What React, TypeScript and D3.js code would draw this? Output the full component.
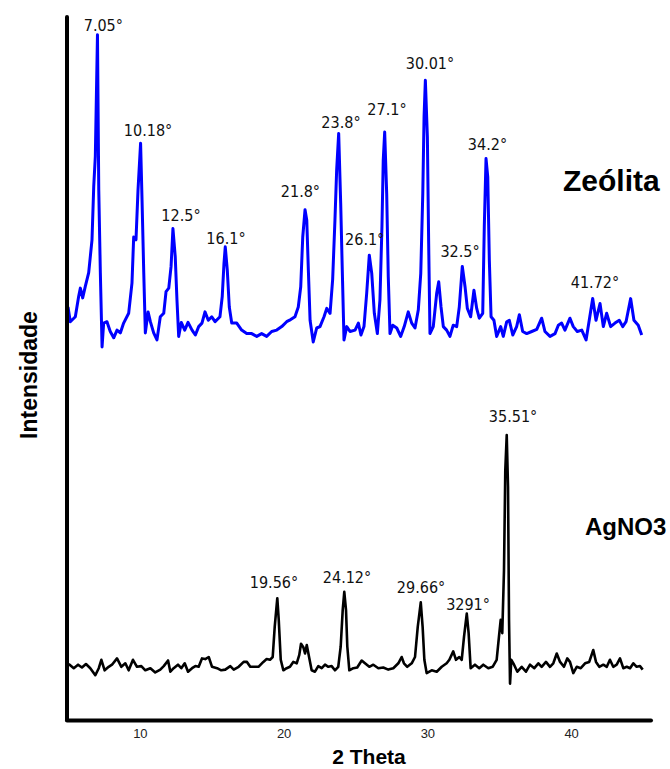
import React, { useEffect, useRef } from 'react';
import * as d3 from 'd3';

// XRD patterns, [2theta (deg), intensity (a.u.)]
const zeolita: [number, number][] = [
  [5.0, 590], [5.16, 569], [5.51, 576], [5.74, 605], [5.86, 617], [6.02, 603], [6.2, 619], [6.44, 639],
  [6.67, 686], [6.79, 762], [6.9, 805], [7.05, 979], [7.14, 757], [7.25, 639], [7.37, 533], [7.48, 567],
  [7.71, 569], [7.94, 555], [8.18, 546], [8.41, 557], [8.64, 553], [8.87, 567], [9.22, 581], [9.45, 624],
  [9.57, 690], [9.73, 686], [9.87, 757], [10.05, 824], [10.15, 743], [10.27, 639], [10.38, 553], [10.57, 583],
  [10.73, 569], [10.96, 553], [11.19, 543], [11.42, 576], [11.66, 581], [11.82, 612], [12.01, 617], [12.17, 648],
  [12.3, 702], [12.46, 662], [12.58, 600], [12.7, 548], [12.88, 568], [13.12, 557], [13.35, 568], [13.63, 557],
  [13.86, 550], [14.09, 562], [14.32, 567], [14.53, 583], [14.76, 571], [15.0, 576], [15.23, 569], [15.57, 576],
  [15.73, 605], [15.85, 652], [15.94, 676], [16.08, 643], [16.22, 590], [16.39, 567], [16.74, 567], [17.08, 557],
  [17.43, 552], [17.78, 552], [18.13, 548], [18.47, 552], [18.82, 548], [19.17, 555], [19.52, 557], [19.87, 562],
  [20.21, 569], [20.49, 572], [20.79, 576], [21.02, 590], [21.19, 619], [21.33, 690], [21.49, 729], [21.61, 714],
  [21.72, 643], [21.84, 571], [22.06, 540], [22.3, 560], [22.53, 562], [22.81, 576], [23.0, 588], [23.23, 581],
  [23.41, 629], [23.57, 714], [23.69, 786], [23.83, 838], [23.97, 738], [24.08, 643], [24.2, 543], [24.39, 562],
  [24.62, 555], [24.97, 557], [25.2, 567], [25.38, 550], [25.59, 562], [25.78, 610], [25.96, 664], [26.13, 638],
  [26.31, 581], [26.52, 552], [26.7, 600], [26.84, 705], [26.93, 800], [27.03, 840], [27.17, 752], [27.28, 633],
  [27.4, 552], [27.59, 564], [27.87, 560], [28.14, 548], [28.39, 562], [28.67, 583], [28.91, 567], [29.14, 560],
  [29.37, 586], [29.54, 638], [29.68, 752], [29.77, 862], [29.86, 914], [30.0, 833], [30.09, 681], [30.18, 552],
  [30.41, 562], [30.65, 610], [30.79, 626], [30.95, 590], [31.11, 562], [31.34, 557], [31.57, 548], [31.8, 564],
  [32.04, 562], [32.22, 590], [32.43, 648], [32.62, 619], [32.78, 588], [33.01, 576], [33.24, 614], [33.43, 588],
  [33.61, 574], [33.85, 581], [33.96, 705], [34.08, 802], [34.2, 776], [34.31, 657], [34.43, 576], [34.63, 571],
  [34.82, 548], [35.1, 562], [35.28, 548], [35.52, 569], [35.7, 571], [35.94, 550], [36.21, 562], [36.4, 579],
  [36.63, 555], [36.91, 552], [37.26, 555], [37.61, 558], [37.95, 574], [38.18, 555], [38.53, 548], [38.88, 552],
  [39.11, 564], [39.34, 567], [39.57, 557], [39.92, 574], [40.15, 562], [40.43, 555], [40.74, 557], [41.04, 543],
  [41.26, 571], [41.5, 602], [41.73, 571], [42.01, 595], [42.24, 562], [42.47, 581], [42.75, 562], [43.05, 567],
  [43.35, 571], [43.59, 562], [43.82, 569], [44.14, 602], [44.37, 571], [44.67, 564], [44.91, 550],
];

const agno3: [number, number][] = [
  [5.05, 80], [5.4, 74], [5.7, 79], [5.97, 75], [6.25, 80], [6.55, 74], [6.9, 64], [7.14, 74], [7.32, 86],
  [7.55, 71], [7.83, 76], [8.06, 79], [8.41, 88], [8.71, 76], [8.99, 81], [9.22, 71], [9.52, 86], [9.8, 76],
  [10.1, 77], [10.38, 71], [10.73, 74], [11.07, 68], [11.42, 72], [11.66, 77], [11.96, 85], [12.12, 69],
  [12.35, 74], [12.65, 79], [12.88, 74], [13.12, 81], [13.35, 69], [13.63, 74], [13.86, 77], [14.09, 76],
  [14.32, 88], [14.55, 87], [14.79, 90], [15.02, 76], [15.37, 74], [15.66, 71], [15.94, 72], [16.29, 77],
  [16.53, 72], [16.87, 76], [17.22, 83], [17.45, 83], [17.68, 76], [17.99, 76], [18.25, 76], [18.59, 83],
  [18.82, 87], [19.05, 86], [19.24, 90], [19.38, 133], [19.56, 174], [19.66, 143], [19.8, 86], [19.98, 71],
  [20.21, 74], [20.44, 76], [20.67, 83], [20.91, 81], [21.09, 93], [21.21, 109], [21.37, 104], [21.49, 95],
  [21.61, 107], [21.77, 90], [21.95, 71], [22.18, 69], [22.41, 77], [22.65, 74], [22.88, 79], [23.11, 76],
  [23.34, 77], [23.57, 71], [23.8, 76], [23.97, 105], [24.11, 157], [24.22, 183], [24.34, 157], [24.43, 105],
  [24.57, 71], [24.85, 74], [25.12, 75], [25.43, 85], [25.66, 81], [25.96, 76], [26.24, 79], [26.59, 74],
  [26.93, 75], [27.28, 72], [27.63, 74], [27.98, 81], [28.21, 90], [28.37, 81], [28.6, 76], [28.91, 81],
  [29.14, 90], [29.33, 133], [29.54, 168], [29.67, 133], [29.79, 86], [29.95, 67], [30.3, 71], [30.65, 69],
  [31.0, 76], [31.34, 81], [31.53, 86], [31.8, 98], [31.99, 86], [32.22, 90], [32.39, 86], [32.55, 119],
  [32.74, 152], [32.87, 124], [33.01, 74], [33.31, 79], [33.61, 74], [33.89, 79], [34.24, 74], [34.54, 76],
  [34.82, 86], [34.98, 119], [35.1, 143], [35.21, 124], [35.33, 214], [35.42, 357], [35.52, 407], [35.61, 333],
  [35.68, 143], [35.75, 52], [35.84, 86], [36.03, 79], [36.26, 69], [36.56, 76], [36.86, 69], [37.14, 79],
  [37.44, 74], [37.72, 81], [37.95, 76], [38.25, 83], [38.53, 76], [38.76, 81], [39.0, 95], [39.23, 83],
  [39.5, 76], [39.73, 88], [39.92, 83], [40.15, 67], [40.39, 76], [40.67, 74], [40.97, 81], [41.26, 83],
  [41.54, 100], [41.73, 83], [41.96, 76], [42.24, 79], [42.48, 76], [42.7, 86], [42.93, 76], [43.17, 79],
  [43.4, 88], [43.63, 74], [43.87, 76], [44.1, 74], [44.33, 81], [44.56, 76], [44.79, 77], [44.98, 72],
];

// peak annotations: text, 2theta, intensity level of the label
const zeolitaPeaks: [string, number, number][] = [
  ['7.05°', 7.46, 984], ['10.18°', 10.57, 834], ['12.5°', 12.86, 713], ['16.1°', 15.99, 680],
  ['21.8°', 21.17, 747], ['23.8°', 23.99, 846], ['26.1°', 25.64, 679], ['27.1°', 27.19, 864],
  ['30.01°', 30.18, 930], ['32.5°', 32.27, 662], ['34.2°', 34.18, 814], ['41.72°', 41.66, 617],
];
const agno3Peaks: [string, number, number][] = [
  ['19.56°', 19.33, 188], ['24.12°', 24.41, 196], ['29.66°', 29.56, 181], ['3291°', 32.83, 157], ['35.51°', 35.96, 426],
];

const xTicks = [10, 20, 30, 40];

export default function App() {
  const axisRef = useRef<SVGGElement>(null);

  const width = 670, height = 769;
  const x = d3.scaleLinear().domain([5, 45]).range([68, 643]);
  const y = d3.scaleLinear().domain([0, 1000]).range([720, 20]);

  const line = d3.line<[number, number]>()
    .x(d => x(d[0]))
    .y(d => y(d[1]));

  useEffect(() => {
    const axis = d3.axisBottom(x).tickValues(xTicks).tickSize(0).tickPadding(9);
    const g = d3.select(axisRef.current!);
    g.call(axis);
    g.select('.domain').remove();
    g.selectAll('text')
      .style('font-family', 'Liberation Sans, Arial, sans-serif')
      .style('font-size', '13px')
      .attr('fill', '#222');
  });

  const peakFont = "'DejaVu Sans Condensed', 'DejaVu Sans', sans-serif";

  return (
    <svg width={width} height={height} style={{ position: 'absolute', left: 0, top: 0, background: '#fff' }}>
      <path d={line(zeolita)!} fill="none" stroke="#0000ff" strokeWidth={3} strokeLinejoin="round" />
      <path d={line(agno3)!} fill="none" stroke="#000" strokeWidth={2.6} strokeLinejoin="round" />

      {zeolitaPeaks.concat(agno3Peaks).map(([t, px, py]) => (
        <text key={t} x={x(px)} y={y(py)} textAnchor="middle" fontFamily={peakFont}
          fontStretch="condensed" fontSize={16} fill="#111">{t}</text>
      ))}

      {/* axes */}
      <line x1={67} x2={67} y1={17} y2={720} stroke="#000" strokeWidth={4} strokeLinecap="round" />
      <line x1={67} x2={651} y1={720.5} y2={720.5} stroke="#000" strokeWidth={4} strokeLinecap="round" />
      <g ref={axisRef} transform="translate(0,720)" />

      <text x={369} y={764} textAnchor="middle" fontFamily="Liberation Sans, Arial, sans-serif"
        fontWeight="bold" fontSize={21}>2 Theta</text>
      <text transform="translate(37,375) rotate(-90)" textAnchor="middle"
        fontFamily="Liberation Sans, Arial, sans-serif" fontWeight="bold" fontSize={23}>Intensidade</text>

      <text x={563} y={191} fontFamily="Liberation Sans, Arial, sans-serif" fontWeight="bold" fontSize={30}>Zeólita</text>
      <text x={585} y={535} fontFamily="Liberation Sans, Arial, sans-serif" fontWeight="bold" fontSize={24}>AgNO3</text>
    </svg>
  );
}
